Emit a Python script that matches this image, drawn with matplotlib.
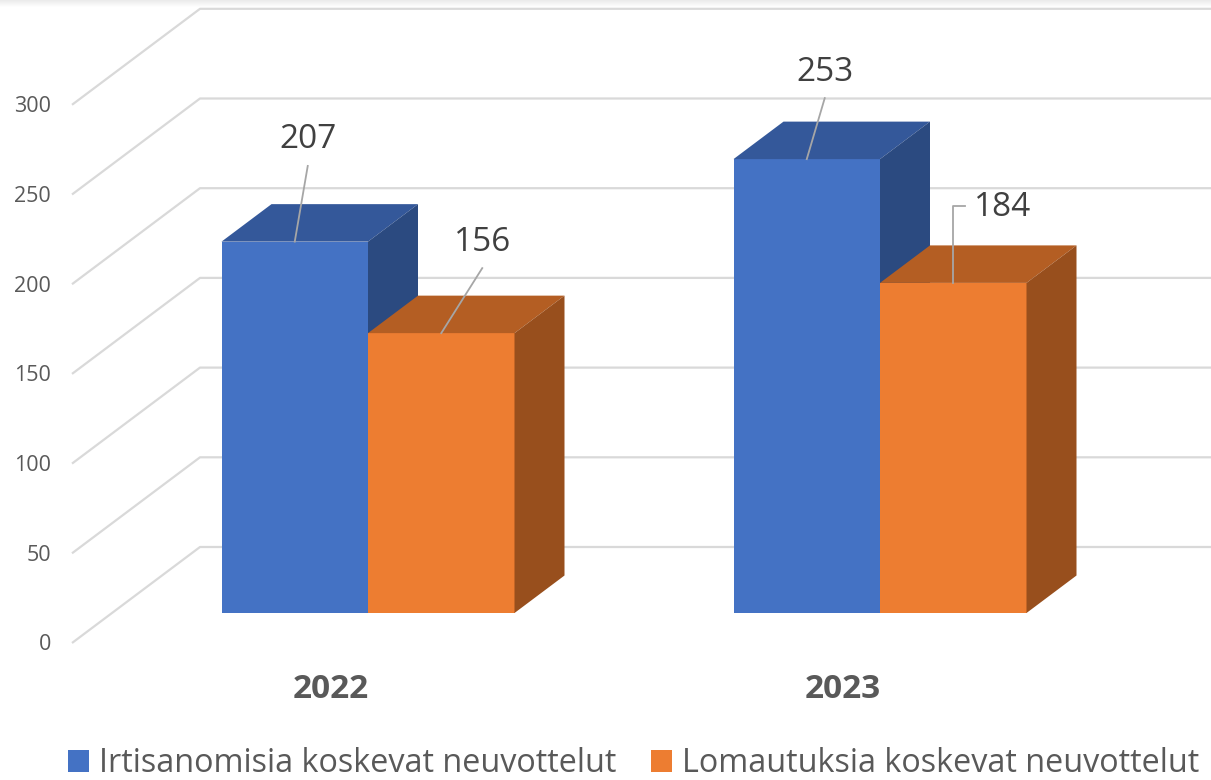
import matplotlib
matplotlib.use('Agg')
import matplotlib.pyplot as plt
from matplotlib.patches import Patch
import numpy as np

# ---------------- data ----------------
years = ['2022', '2023']
series_names = ['Irtisanomisia koskevat neuvottelut', 'Lomautuksia koskevat neuvottelut']
irtisanomiset = [207, 253]
lomautukset = [156, 184]
y_ticks = [0, 50, 100, 150, 200, 250, 300]

# ---------------- styles ----------------
front_cols = ['#4472C4', '#ED7D31']
top_cols = ['#34589A', '#B45E23']
side_cols = ['#2B4A80', '#984F1D']
grid_c = '#d9d9d9'
text_c = '#595959'
label_c = '#404040'
leader_c = '#a6a6a6'
FONT = 'Open Sans'

# label offsets in pixels (dx, dy above bar top) and leader style per series / group
label_offsets = [[(13, 101.7), (18, 87)], [(41, 91), (49, 75)]]
leader_styles = [['straight', 'straight'], ['straight', 'elbow']]

W, H = 1211, 780
fig = plt.figure(figsize=(W / 100, H / 100), dpi=100)
ax = fig.add_axes([0, 0, 1, 1])
ax.set_axis_off()

PX_PER_CAT = 512.0
PX_PER_VAL = 1.794
X0_PX = 368.0
BASE_PX = 613.0
ax.set_xlim(-X0_PX / PX_PER_CAT, (W - X0_PX) / PX_PER_CAT)
ax.set_ylim((BASE_PX - H) / PX_PER_VAL, BASE_PX / PX_PER_VAL)


def pdx(p):
    return p / PX_PER_CAT


def pdy(p):
    return p / PX_PER_VAL


DX = pdx(50)
DV = pdy(37.5)
Z_FRONT = -0.8
Z_BACK = 1.76
WALL_X = pdx(112 - X0_PX)


def proj(x, v, z):
    return x + z * DX, v + z * DV


# top light shading
grad = np.linspace(0.92, 1.0, 50).reshape(-1, 1)
gax = fig.add_axes([0, 1 - 7 / H, 1, 7 / H], zorder=-1)
gax.imshow(np.dstack([grad, grad, grad]), aspect='auto', extent=[0, 1, 0, 1])
gax.set_axis_off()
ax.set_zorder(1)
ax.patch.set_alpha(0)

# gridlines (walls)
xr = ax.get_xlim()[1] + 0.2
for t in y_ticks:
    x1, y1 = proj(WALL_X, t, Z_FRONT)
    x2, y2 = proj(WALL_X, t, Z_BACK)
    ax.plot([x1, x2, xr], [y1, y2, y2], color=grid_c, lw=1.6, zorder=1,
            solid_capstyle='butt', clip_on=False)
    ax.text(x1 - pdx(21), y1 - pdy(2), str(t), ha='right', va='center',
            fontsize=15.5, color=text_c, family=FONT)

# bars
width = 146.5 / PX_PER_CAT
series = [irtisanomiset, lomautukset]
xs = np.arange(len(years))
for s, vals in enumerate(series):
    zb = 3 + 2 * s
    lefts = xs + (s - 1) * width
    ax.bar(lefts, vals, width=width, align='edge', color=front_cols[s],
           linewidth=0, zorder=zb)
    for g, v in enumerate(vals):
        x0 = lefts[g]
        x1 = x0 + width
        topp = [(x0, v), (x1, v), proj(x1, v, 1), proj(x0, v, 1)]
        sidep = [(x1, 0), (x1, v), proj(x1, v, 1), proj(x1, 0, 1)]
        ax.fill(*zip(*topp), color=top_cols[s], lw=0, zorder=zb + 1)
        ax.fill(*zip(*sidep), color=side_cols[s], lw=0, zorder=zb + 1)
        # data label
        cx = x0 + width / 2
        odx, ody = label_offsets[s][g]
        lx = cx + pdx(odx)
        ly = v + pdy(ody)
        ax.text(lx, ly, str(v), ha='center', va='center', fontsize=24,
                color=label_c, family=FONT, zorder=10)
        if leader_styles[s][g] == 'straight':
            ax.plot([cx, lx], [v, ly - pdy(26)], color=leader_c, lw=1.3, zorder=9)
        else:
            ax.plot([cx, cx, cx + pdx(12)], [v, ly + pdy(2), ly + pdy(2)],
                    color=leader_c, lw=1.3, zorder=9)

# category labels
for g, yr in enumerate(years):
    lx, _ = proj(g, 0, Z_FRONT)
    ax.text(lx + pdx(3), pdy(BASE_PX - 690), yr, ha='center', va='center',
            fontsize=24, fontweight='bold', color=text_c, family=FONT)

# legend
handles = [Patch(facecolor=front_cols[i], edgecolor='none') for i in range(2)]
leg = fig.legend(handles, series_names, loc='center',
                 bbox_to_anchor=(633.5 / W, 1 - 764 / H), ncol=2, frameon=False,
                 prop={'family': FONT, 'size': 23.3}, handlelength=0.65,
                 handleheight=0.65, handletextpad=0.31, columnspacing=1.08,
                 borderaxespad=0, borderpad=0)
for t in leg.get_texts():
    t.set_color(text_c)

fig.savefig('out.png', dpi=100)
